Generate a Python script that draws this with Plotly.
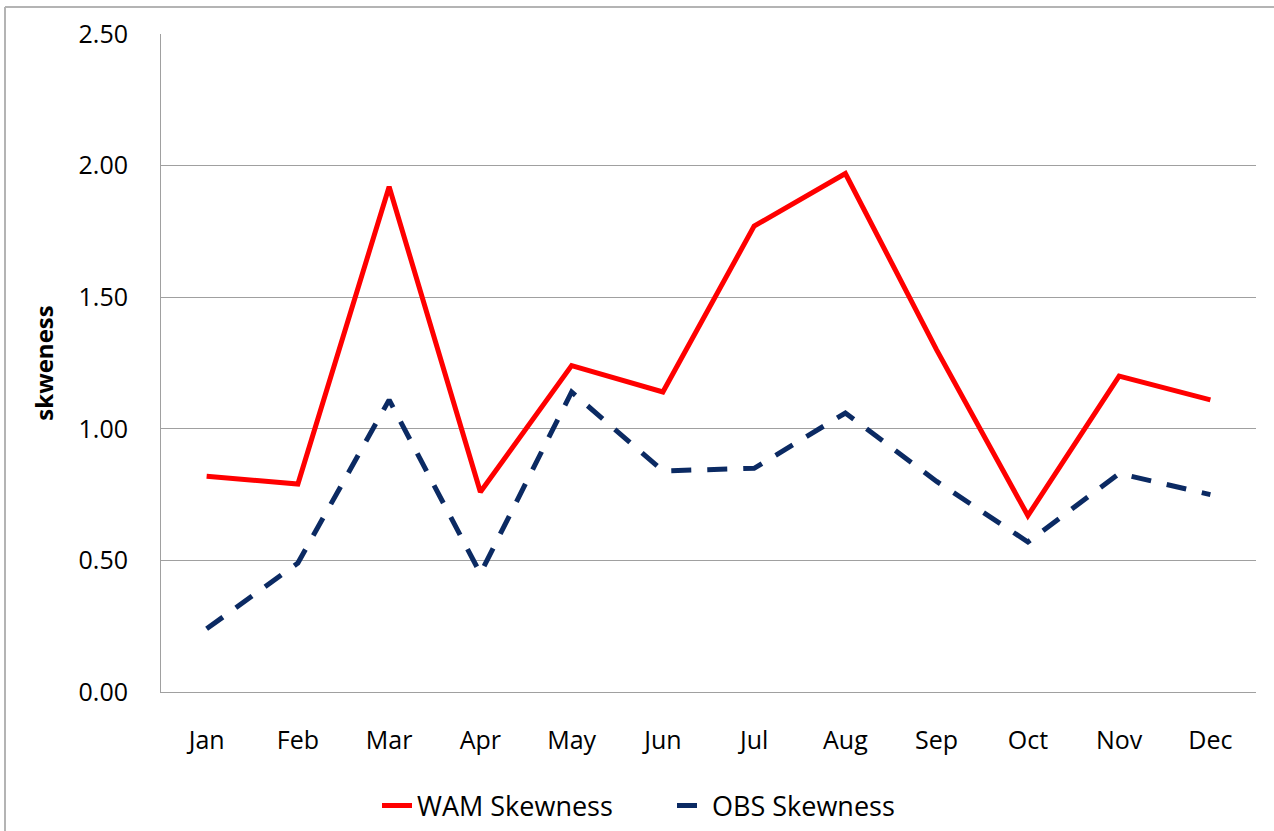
import plotly.graph_objects as go

months = ["Jan", "Feb", "Mar", "Apr", "May", "Jun", "Jul", "Aug", "Sep", "Oct", "Nov", "Dec"]
wam_skewness = [0.82, 0.79, 1.92, 0.76, 1.24, 1.14, 1.77, 1.97, 1.30, 0.67, 1.20, 1.11]
obs_skewness = [0.24, 0.49, 1.11, 0.45, 1.14, 0.84, 0.85, 1.06, 0.80, 0.57, 0.83, 0.75]
y_ticks = [0.0, 0.5, 1.0, 1.5, 2.0, 2.5]
y_tick_labels = ["0.00", "0.50", "1.00", "1.50", "2.00", "2.50"]

FONT = "Open Sans"

fig = go.Figure()
fig.add_trace(go.Scatter(
    x=months, y=wam_skewness, name="WAM Skewness", mode="lines",
    line=dict(color="#ff0000", width=5),
))
fig.add_trace(go.Scatter(
    x=months, y=obs_skewness, name="OBS Skewness", mode="lines",
    line=dict(color="#0b2a63", width=5, dash="20px,16px"),
))

fig.update_layout(
    width=1274, height=831,
    margin=dict(l=161, r=18, t=34, b=139, autoexpand=False),
    paper_bgcolor="white", plot_bgcolor="white",
    font=dict(family=FONT, size=25, color="#000000"),
    showlegend=True,
    legend=dict(
        orientation="h", x=(672 - 161) / 1095, xanchor="center",
        y=(692 - 806) / 658, yanchor="middle",
        font=dict(family=FONT, size=27, color="#000000"),
        entrywidth=250, tracegroupgap=0,
    ),
    xaxis=dict(
        type="category", range=[-0.5, 11.5], automargin=False,
        showgrid=False, zeroline=False,
        showline=True, linecolor="#a0a0a0", linewidth=1,
        ticks="", tickfont=dict(family=FONT, size=25),
        ticklabelstandoff=26,
    ),
    yaxis=dict(
        range=[0, 2.5], tickvals=y_ticks, ticktext=y_tick_labels, automargin=False,
        showgrid=True, gridcolor="#a0a0a0", gridwidth=1,
        zeroline=False,
        showline=True, linecolor="#a0a0a0", linewidth=1,
        ticks="", tickfont=dict(family=FONT, size=25),
        ticklabelstandoff=27,
        title=dict(text="<b>skweness</b>", font=dict(family=FONT, size=24), standoff=18),
    ),
    shapes=[
        dict(type="line", xref="paper", yref="paper",
             x0=(5 - 161) / 1095, x1=(1280 - 161) / 1095,
             y0=(692 - 7) / 658, y1=(692 - 7) / 658,
             line=dict(color="#b4b4b4", width=2)),
        dict(type="line", xref="paper", yref="paper",
             x0=(5 - 161) / 1095, x1=(5 - 161) / 1095,
             y0=(692 - 7) / 658, y1=(692 - 840) / 658,
             line=dict(color="#b4b4b4", width=2)),
    ],
)

fig.write_html("out.html")
